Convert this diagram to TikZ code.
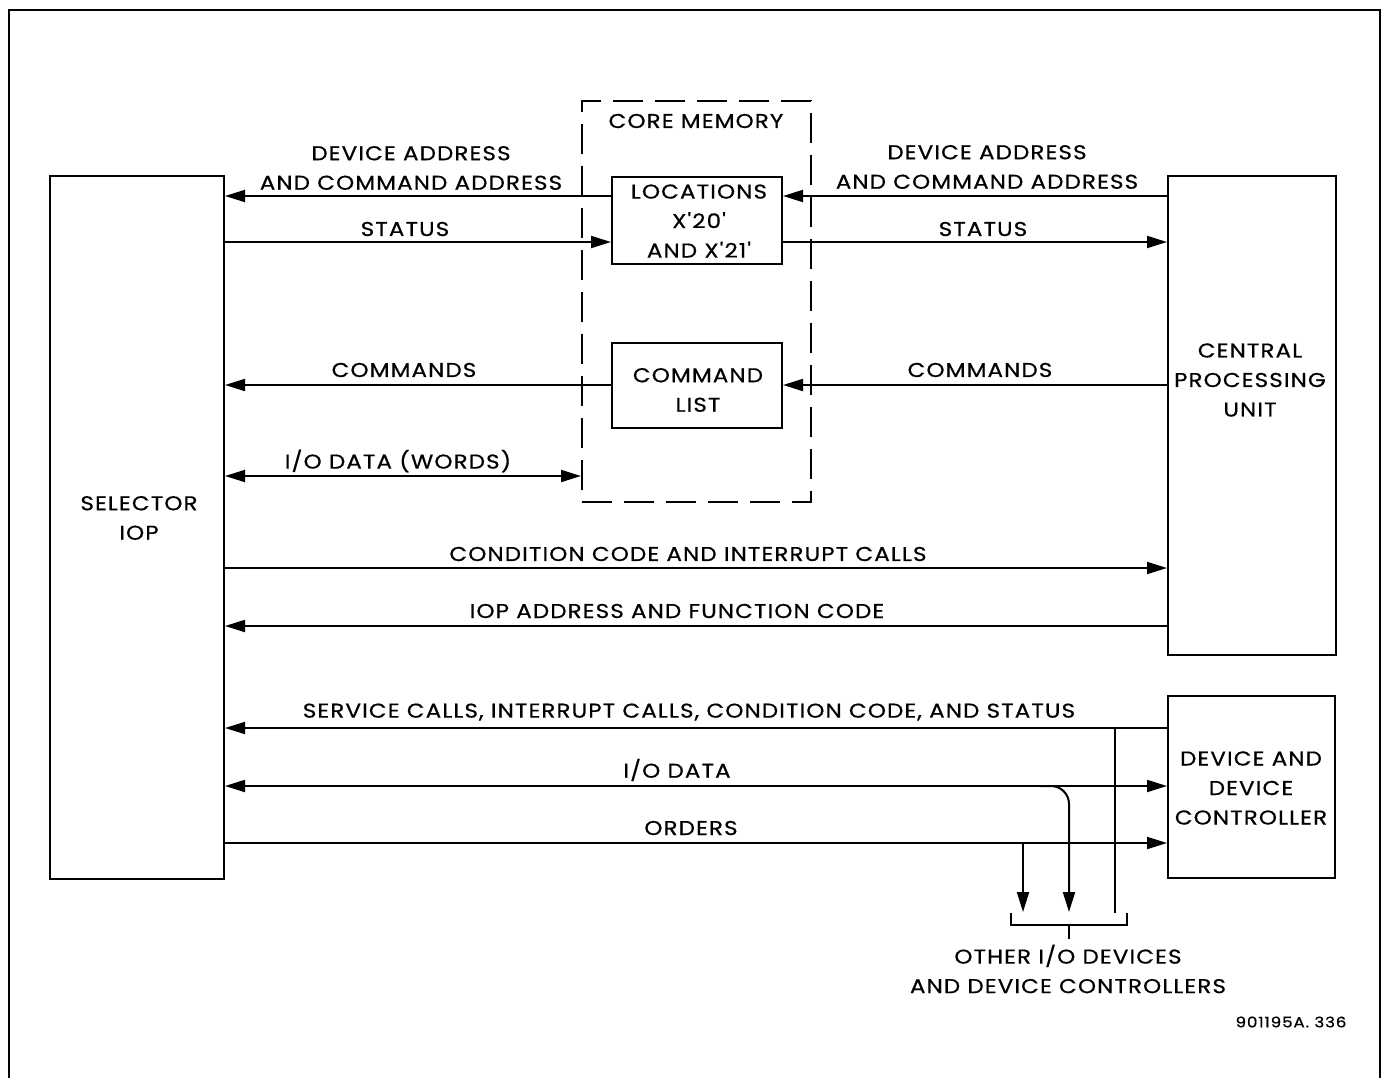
\documentclass[tikz,border=0pt]{standalone}
\usepackage{fontspec}
\setmainfont{Poppins}[Ligatures=TeXOff, FakeStretch=1.15, LetterSpace=5.6, FakeBold=0.6]
\usetikzlibrary{arrows.meta,calc}
\tikzset{
  box/.style={draw, line width=2pt, rectangle, inner sep=0pt},
  lbl/.style={inner sep=0pt, align=center, font=\fontsize{20}{29.5}\selectfont},
  ln/.style={line width=2pt},
  arr/.style={ln, -{Triangle[length=20pt,width=12pt]}},
  darr/.style={ln, {Triangle[length=20pt,width=12pt]}-{Triangle[length=20pt,width=12pt]}},
}
\begin{document}
\begin{tikzpicture}[x=1pt,y=-1pt]
\useasboundingbox (0,0) rectangle (1382,1077);
% frame
\draw[line width=2.2pt] (9,1080) -- (9,10) -- (1380,10) -- (1380,1080);
% boxes
\node[box, minimum width=174pt, minimum height=703pt] (sel) at (137,527.5) {};
\node[box, minimum width=168pt, minimum height=479pt] (cpu) at (1252,415.5) {};
\node[box, minimum width=167pt, minimum height=182pt] (dev) at (1251.5,787) {};
\node[draw, line width=2pt, dash pattern=on 30pt off 12pt, minimum width=229pt, minimum height=401pt, inner sep=0pt] (core) at (696.5,301.5) {};
\node[box, minimum width=170pt, minimum height=87pt] (loc) at (697,220.5) {};
\node[box, minimum width=170pt, minimum height=85pt] (cml) at (697,385.5) {};
% box texts
\node[lbl] (tsel) at (139,518) {SELECTOR\\IOP};
\node[lbl] (tcpu) at (1250,380) {CENTRAL\\PROCESSING\\UNIT};
\node[lbl] (tdev) at (1251,788) {DEVICE AND\\DEVICE\\CONTROLLER};
\node[lbl] (tcore) at (696,121) {CORE MEMORY};
\node[lbl] (tloc) at (699,221) {LOCATIONS\\X'20'\\AND X'21'};
\node[lbl] (tcml) at (698,390) {COMMAND\\LIST};
% connectors
\draw[arr] (loc.west |- 0,196) -- (sel.east |- 0,196);
\draw[arr] (sel.east |- 0,242) -- (loc.west |- 0,242);
\draw[arr] (cpu.west |- 0,196) -- (loc.east |- 0,196);
\draw[arr] (loc.east |- 0,242) -- (cpu.west |- 0,242);
\draw[arr] (cml.west |- 0,385) -- (sel.east |- 0,385);
\draw[arr] (cpu.west |- 0,385) -- (cml.east |- 0,385);
\draw[darr] (sel.east |- 0,476) -- (core.west |- 0,476);
\draw[arr] (sel.east |- 0,568) -- (cpu.west |- 0,568);
\draw[arr] (cpu.west |- 0,626) -- (sel.east |- 0,626);
\draw[arr] (dev.west |- 0,728) -- (sel.east |- 0,728);
\draw[darr] (sel.east |- 0,786) -- (dev.west |- 0,786);
\draw[arr] (sel.east |- 0,843) -- (dev.west |- 0,843);
% labels
\node[lbl] (l1) at (411,168) {DEVICE ADDRESS\\AND COMMAND ADDRESS};
\node[lbl] (l2) at (405,229) {STATUS};
\node[lbl] (l3) at (987,167) {DEVICE ADDRESS\\AND COMMAND ADDRESS};
\node[lbl] (l4) at (983,229) {STATUS};
\node[lbl] (l5) at (404,370) {COMMANDS};
\node[lbl] (l6) at (980,370) {COMMANDS};
\node[lbl] (l7) at (398,461) {I/O DATA (WORDS)};
\node[lbl] (l8) at (688,554) {CONDITION CODE AND INTERRUPT CALLS};
\node[lbl] (l9) at (677,611) {IOP ADDRESS AND FUNCTION CODE};
\node[lbl] (l10) at (689,712) {SERVICE CALLS, INTERRUPT CALLS, CONDITION CODE, AND STATUS};
\node[lbl] (l11) at (677,770) {I/O DATA};
\node[lbl] (l12) at (691,828) {ORDERS};
% branches to other devices
\coordinate (bs) at (1115,728);
\coordinate (bd) at (1040,786);
\coordinate (bo) at (1023,843);
\coordinate (brL) at (1011,913);
\coordinate (brR) at (1127,913);
\coordinate (brC) at (1069,925);
\draw[ln] (bs) -- (bs |- brR);
\draw[arr, rounded corners=18pt] (bd) -- (brC |- bd) -- (1069,912);
\draw[arr] (bo) -- (1023,912);
\draw[ln] (brL) -- (brL |- brC) -- (brR |- brC) -- (brR);
\draw[ln] (brC) -- ++(0,14) coordinate (brT);
\node[lbl] (lo) at (1068,969) {OTHER I/O DEVICES\\AND DEVICE CONTROLLERS};
\node[inner sep=0pt, font=\fontsize{14.6}{18}\selectfont] (fig) at (1291,1022) {901195A. 336};
\end{tikzpicture}
\end{document}
